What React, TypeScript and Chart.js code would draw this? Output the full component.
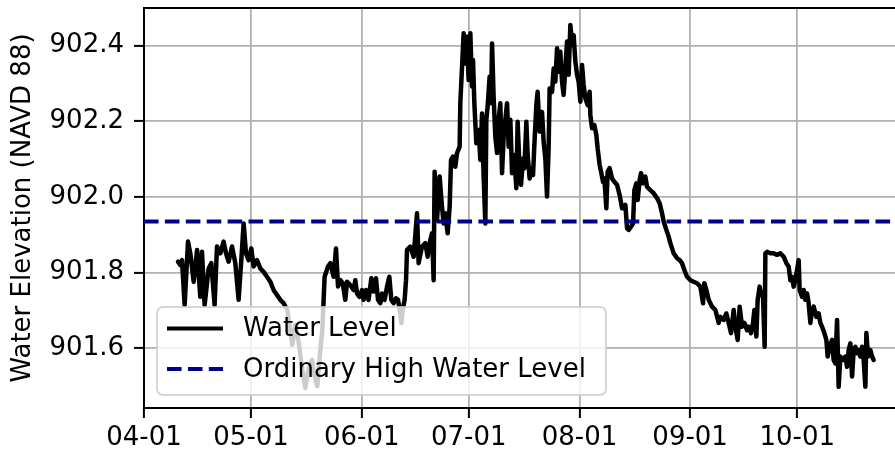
import React, { useEffect, useRef } from "react";
import { Chart, registerables } from "chart.js";

Chart.register(...registerables);

// Days since 04-01 for each reading
const dayOffsets: number[] = [
  9.53, 10.17, 10.65, 11.38, 12.33, 12.98, 13.92, 14.87, 15.77, 16.25, 16.98, 18.1, 18.86, 19.78, 20.45, 21.38,
  22.3, 22.98, 23.7, 24.66, 25.58, 26.51, 27.26, 27.91, 28.58, 29.31, 30.06, 30.71, 31.66, 32.59, 33.51, 34.46,
  35.39, 36.31, 37.26, 38.19, 39.12,
  40.15, 41.55, 42.39, 43.23, 44.35, 45.2, 46.04, 47.07, 47.72, 48.56, 49.4, 49.96, 50.6,
  51.55, 52.2, 53.12, 53.79, 54.36, 55.01, 55.66, 56.4, 56.88, 57.8, 58.73, 59.2, 59.68, 60.33, 61.08, 61.53,
  62.2, 62.93, 63.69, 64.33, 65.0, 65.56, 66.21, 66.69, 67.41, 68.09, 68.73, 69.29, 69.94, 70.61, 71.17, 71.81,
  72.1, 72.46, 73.02, 73.41,
  73.69, 74.61, 75.54, 76.49, 76.94, 77.89, 78.82, 79.46, 80.22, 80.69, 81.14, 81.42,
  82.09, 82.82, 83.49, 83.95, 84.42, 85.07, 85.63, 86.02, 86.58, 87.22, 87.7, 88.43, 88.62, 89.1, 89.55, 90.02,
  90.5, 90.95, 91.43, 91.9, 92.18, 92.55, 93.11, 93.75, 94.23, 94.7, 95.15, 95.63, 95.91, 96.27, 96.83, 97.23,
  97.51, 97.95, 98.43, 98.91, 99.36, 99.83, 100.31, 100.76, 101.23, 101.71, 102.16, 102.64, 103.11, 103.56,
  103.75, 104.31, 104.68, 105.24, 105.63, 106.19, 106.56, 107.12, 107.48, 108.04, 108.43, 108.99, 109.36, 109.92,
  110.28, 110.84, 111.51, 111.96, 112.44, 112.91, 113.36, 113.64, 114.32, 114.77, 115.24, 115.72, 116.16, 116.64,
  117.12, 117.56, 118.04, 118.52, 118.97, 119.45, 119.92, 120.37, 120.85, 121.32, 121.77, 122.25, 122.72, 123.17,
  123.65, 124.29, 124.85, 125.05, 125.52, 126.17, 126.73, 127.09, 127.65, 128.04, 128.6, 128.97, 129.53, 129.89,
  130.45, 131.13, 131.77, 132.53, 133.26, 133.93, 134.86, 135.33, 135.78,
  136.4, 137.01, 137.38, 137.94, 138.3, 138.86, 139.25, 139.81, 140.46, 140.93, 141.86, 142.78, 143.74, 144.47,
  145.14, 145.59, 146.34, 146.99, 147.46, 148.39, 149.34, 150.07, 150.74, 151.39, 152.14, 153.07, 153.99, 154.94,
  155.87, 156.62, 156.99, 157.55, 158.21, 159.15, 160.08, 161.0, 161.48, 162.41, 163.15, 163.8, 164.47, 165.2,
  165.67, 166.32, 166.88, 167.55, 168.2, 168.95,
  169.4, 170.07, 170.63, 171.0, 171.56, 171.92, 172.48, 172.87, 173.43, 173.88, 174.08, 174.56, 175.48, 176.41,
  177.36, 178.28, 179.21, 179.97, 180.61, 181.09, 181.56, 182.01, 182.49, 182.96, 183.41, 183.69, 184.36, 184.81,
  185.29, 185.76, 186.21, 186.69, 187.16, 187.61, 188.37, 189.01, 189.49, 189.97, 190.61, 191.17, 191.54, 192.1,
  192.77, 193.21, 193.69, 194.17, 194.62, 195.09, 195.85, 196.49, 196.97, 197.42, 197.9, 198.38, 198.82, 199.3,
  199.78, 200.22, 200.7, 201.18, 201.62, 202.1, 202.38, 202.86, 203.5, 203.98, 204.43,
];

// Water elevation (NAVD 88) for each reading
const waterLevel: number[] = [
  901.829, 901.82, 901.833, 901.714, 901.882, 901.851, 901.776, 901.86, 901.736, 901.855, 901.714, 901.811, 901.825, 901.714, 901.869, 901.851,
  901.882, 901.851, 901.829, 901.869, 901.825, 901.728, 901.833, 901.93, 901.851, 901.833, 901.864, 901.816, 901.833, 901.811, 901.802, 901.789,
  901.776, 901.754, 901.741, 901.728, 901.719,
  901.701, 901.609, 901.662, 901.622, 901.543, 901.495, 901.543, 901.569, 901.529, 901.5, 901.595, 901.648, 901.789,
  901.816, 901.825, 901.789, 901.864, 901.763, 901.78, 901.772, 901.728, 901.776, 901.767, 901.754, 901.78, 901.745, 901.736, 901.754, 901.728,
  901.754, 901.728, 901.785, 901.75, 901.785, 901.728, 901.719, 901.745, 901.728, 901.763, 901.789, 901.728, 901.719, 901.732, 901.728, 901.692,
  901.667, 901.701, 901.728, 901.78,
  901.86, 901.869, 901.842, 901.957, 901.825, 901.869, 901.878, 901.842, 901.886, 901.904, 901.78, 902.067,
  901.939, 902.054, 901.974, 901.93, 901.957, 901.904, 901.974, 902.098, 902.107, 902.08, 902.116, 902.133, 902.248, 902.344, 902.433, 902.353,
  902.424, 902.309, 902.433, 902.292, 902.362, 902.248, 902.142, 902.177, 902.098, 902.221, 902.054, 901.93, 902.204, 902.239, 902.318, 902.248,
  902.406, 902.265, 902.159, 902.116, 902.204, 902.248, 902.063, 902.159, 902.204, 902.248, 902.133, 902.204, 902.063, 902.107,
  902.111, 902.023, 902.199, 902.067, 902.032, 902.102, 902.076, 902.199, 902.111, 902.049, 902.076, 902.058, 902.137, 902.243,
  902.278, 902.173, 902.225, 902.146, 902.102, 902.001, 902.129, 902.287, 902.278, 902.34, 902.305, 902.393, 902.331, 902.384,
  902.305, 902.27, 902.34, 902.411, 902.323, 902.455, 902.402, 902.428, 902.358, 902.323, 902.305, 902.252, 902.349, 902.296,
  902.261, 902.243, 902.278, 902.217, 902.182, 902.19, 902.164, 902.129, 902.085, 902.067, 902.04, 902.049, 901.97, 902.067,
  902.076, 902.049, 902.04, 902.032, 902.005, 901.97, 901.979, 901.917, 901.913,
  901.921, 901.93, 902.018, 902.036, 901.992, 902.045, 902.063, 902.036, 902.054, 902.027, 902.018, 902.01, 901.997, 901.983,
  901.957, 901.935, 901.913, 901.895, 901.878, 901.851, 901.838, 901.833, 901.825, 901.807, 901.789, 901.78, 901.776, 901.772,
  901.763, 901.719, 901.772, 901.754, 901.728, 901.71, 901.701, 901.667, 901.683, 901.675, 901.692, 901.667, 901.64, 901.701,
  901.657, 901.622, 901.71, 901.657, 901.667, 901.648,
  901.657, 901.64, 901.667, 901.701, 901.631, 901.728, 901.763, 901.745, 901.736, 901.604, 901.851, 901.855, 901.851, 901.851,
  901.847, 901.851, 901.842, 901.825, 901.816, 901.78, 901.789, 901.763, 901.78, 901.807, 901.833, 901.754, 901.736, 901.754,
  901.728, 901.745, 901.719, 901.667, 901.701, 901.71, 901.683, 901.692, 901.667, 901.657, 901.64, 901.622, 901.578, 901.604,
  901.622, 901.569, 901.56, 901.675, 901.498, 901.578, 901.569, 901.578, 901.551, 901.595, 901.613, 901.525, 901.595, 901.604,
  901.587, 901.595, 901.578, 901.604, 901.569, 901.498, 901.64, 901.578, 901.595, 901.578, 901.569,
];

const ohwLevel = 901.935;

const xTickDays: number[] = [0, 30, 61, 91, 122, 153, 183];
const xTickLabels: string[] = ["04-01", "05-01", "06-01", "07-01", "08-01", "09-01", "10-01"];
const yTicks: number[] = [901.6, 901.8, 902.0, 902.2, 902.4];

const xMin = 0;
const xMax = 210.4;
const yMin = 901.442;
const yMax = 902.4997;

const legendLabels: string[] = ["Water Level", "Ordinary High Water Level"];

const FONT = "DejaVu Sans";

const frameLegendPlugin = {
  id: "frameLegend",
  afterDraw(chart: any) {
    const ctx = chart.ctx as CanvasRenderingContext2D;
    const a = chart.chartArea;
    ctx.save();
    // top spine
    ctx.strokeStyle = "#000";
    ctx.lineWidth = 2;
    ctx.beginPath();
    ctx.moveTo(a.left - 1, a.top);
    ctx.lineTo(a.right, a.top);
    ctx.stroke();

    // legend box
    const bx = a.left + 13;
    const by = a.top + 299;
    const bw = 449;
    const bh = 88;
    const r = 6;
    ctx.beginPath();
    ctx.moveTo(bx + r, by);
    ctx.lineTo(bx + bw - r, by);
    ctx.arcTo(bx + bw, by, bx + bw, by + r, r);
    ctx.lineTo(bx + bw, by + bh - r);
    ctx.arcTo(bx + bw, by + bh, bx + bw - r, by + bh, r);
    ctx.lineTo(bx + r, by + bh);
    ctx.arcTo(bx, by + bh, bx, by + bh - r, r);
    ctx.lineTo(bx, by + r);
    ctx.arcTo(bx, by, bx + r, by, r);
    ctx.closePath();
    ctx.fillStyle = "rgba(255,255,255,0.8)";
    ctx.fill();
    ctx.strokeStyle = "rgba(204,204,204,0.8)";
    ctx.lineWidth = 2;
    ctx.stroke();

    const rows = [by + 21.5, by + 62];
    const lx0 = bx + 10;
    const lx1 = bx + 66;
    // water level sample
    ctx.setLineDash([]);
    ctx.strokeStyle = "#000";
    ctx.lineWidth = 4;
    ctx.beginPath();
    ctx.moveTo(lx0, rows[0]);
    ctx.lineTo(lx1, rows[0]);
    ctx.stroke();
    // OHW sample
    ctx.setLineDash([14.6, 6.3]);
    ctx.strokeStyle = "#00008b";
    ctx.beginPath();
    ctx.moveTo(lx0, rows[1]);
    ctx.lineTo(lx1, rows[1]);
    ctx.stroke();
    ctx.setLineDash([]);

    ctx.fillStyle = "#000";
    ctx.font = `26px "${FONT}"`;
    ctx.textAlign = "left";
    ctx.textBaseline = "middle";
    ctx.fillText(legendLabels[0], bx + 86, rows[0] + 1);
    ctx.fillText(legendLabels[1], bx + 86, rows[1] + 1);
    ctx.restore();
  },
};

export default function App() {
  const ref = useRef<HTMLCanvasElement>(null);

  useEffect(() => {
    if (!ref.current) return;
    const chart = new Chart(ref.current, {
      type: "line",
      data: {
        datasets: [
          {
            label: legendLabels[1],
            data: [
              { x: xMin, y: ohwLevel },
              { x: xMax, y: ohwLevel },
            ],
            borderColor: "#00008b",
            borderWidth: 4,
            borderDash: [14.6, 6.3],
            pointRadius: 0,
            order: 0,
          },
          {
            label: legendLabels[0],
            data: dayOffsets.map((d, i) => ({ x: d, y: waterLevel[i] })),
            borderColor: "#000",
            borderWidth: 4.5,
            borderJoinStyle: "round",
            borderCapStyle: "round",
            pointRadius: 0,
            tension: 0,
            order: 1,
          },
        ],
      },
      options: {
        animation: false,
        responsive: false,
        devicePixelRatio: 1,
        layout: { padding: { top: 8, left: 0, right: 0, bottom: 0 } },
        plugins: {
          legend: { display: false },
          tooltip: { enabled: false },
        },
        font: { family: FONT },
        scales: {
          x: {
            type: "linear",
            min: xMin,
            max: xMax,
            afterBuildTicks: (scale: any) => {
              scale.ticks = xTickDays.map((v) => ({ value: v }));
            },
            afterFit: (scale: any) => {
              scale.height = 46;
              scale.paddingLeft = 0;
              scale.paddingRight = 0;
            },
            ticks: {
              autoSkip: false,
              maxRotation: 0,
              padding: 5,
              color: "#000",
              font: { family: FONT, size: 26 },
              callback: (v: any) => {
                const i = xTickDays.indexOf(Number(v));
                return i >= 0 ? xTickLabels[i] : "";
              },
            },
            grid: {
              color: "#b0b0b0",
              lineWidth: 1.8,
              tickLength: 10,
              tickColor: "#000",
              tickWidth: 2,
            },
            border: { color: "#000", width: 2 },
          },
          y: {
            type: "linear",
            min: yMin,
            max: yMax,
            afterBuildTicks: (scale: any) => {
              scale.ticks = yTicks.map((v) => ({ value: v }));
            },
            afterFit: (scale: any) => {
              scale.width = 144;
              scale.paddingTop = 0;
              scale.paddingBottom = 0;
            },
            ticks: {
              padding: 10,
              color: "#000",
              font: { family: FONT, size: 26 },
              callback: (v: any) => Number(v).toFixed(1),
            },
            grid: {
              color: "#b0b0b0",
              lineWidth: 1.8,
              tickLength: 10,
              tickColor: "#000",
              tickWidth: 2,
            },
            border: { color: "#000", width: 2 },
            title: {
              display: true,
              text: "Water Elevation (NAVD 88)",
              color: "#000",
              font: { family: FONT, size: 26 },
              padding: { top: 7.4, bottom: 0 },
            },
          },
        },
      },
      plugins: [frameLegendPlugin],
    });
    return () => chart.destroy();
  }, []);

  return (
    <div style={{ position: "absolute", left: 0, top: 0, width: 895, height: 454, background: "#fff" }}>
      <canvas ref={ref} width={895} height={454} style={{ display: "block", width: 895, height: 454 }} />
    </div>
  );
}
